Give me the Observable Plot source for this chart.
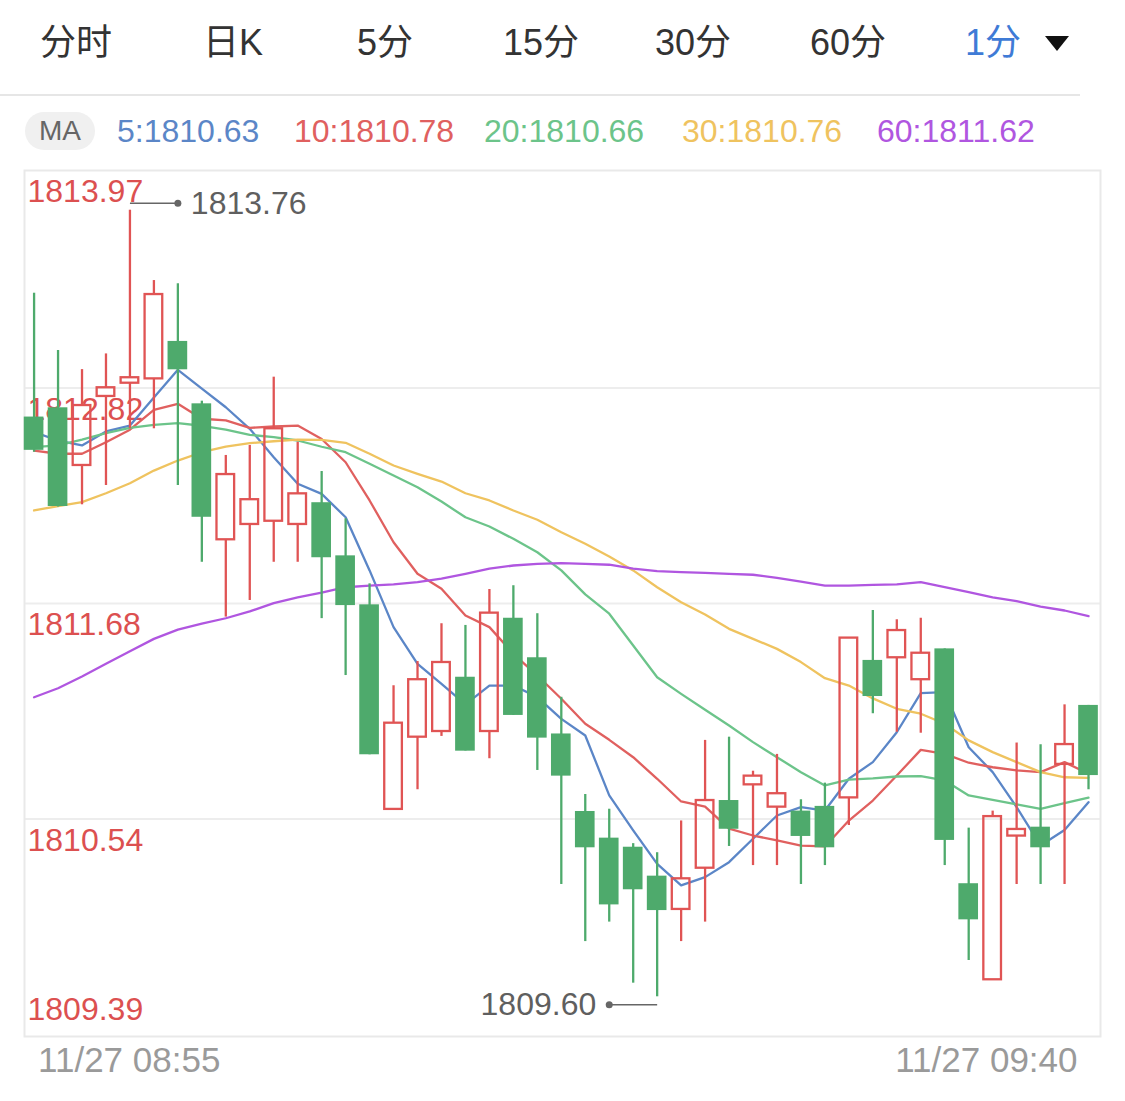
<!DOCTYPE html>
<html>
<head>
<meta charset="utf-8">
<script src="https://cdn.jsdelivr.net/npm/d3@7"></script>
<script src="https://cdn.jsdelivr.net/npm/@observablehq/plot@0.6"></script>
<style>
  body { margin: 0; background: #fff; font-family: "Liberation Sans", "Noto Sans CJK SC", sans-serif; }
  #wrap { position: relative; width: 1125px; height: 1101px; overflow: hidden; background: #fff; }
  #head { position: relative; width: 1125px; height: 150px; }
  .tab { position: absolute; top: 20px; font-size: 36px; line-height: 46px; color: #333; white-space: nowrap; }
  .tab.active { color: #3f7bd6; }
  .tri { position: absolute; left: 1045px; top: 36px; width: 0; height: 0;
         border-left: 12px solid transparent; border-right: 12px solid transparent; border-top: 15px solid #111; }
  .sep { position: absolute; left: 0; top: 94px; width: 1080px; height: 2px; background: #e6e6e6; }
  .pill { position: absolute; left: 25px; top: 112px; width: 70px; height: 38px; border-radius: 19px;
          background: #f0f0f0; color: #666; font-size: 28px; line-height: 38px; text-align: center; }
  .ma { position: absolute; top: 112px; font-size: 32px; line-height: 38px; white-space: nowrap; }
  #chart svg { display: block; }
</style>
</head>
<body>
<div id="wrap">
  <div id="head"></div>
  <div id="chart"></div>
</div>
<script>
// ---------- data ----------
const tabs = ["分时", "日K", "5分", "15分", "30分", "60分", "1分"];
const activeTab = "1分";
const maPeriods = [5, 10, 20, 30, 60];
const maLatest = [1810.63, 1810.78, 1810.66, 1810.76, 1811.62];
const yTicks = [1813.97, 1812.82, 1811.68, 1810.54, 1809.39];
const timeLabels = ["11/27 08:55", "11/27 09:40"];

const opens  = [1812.666, 1812.715, 1812.410, 1812.775, 1812.845, 1812.868, 1813.066, 1812.736, 1812.017, 1812.098,
                1812.115, 1812.098, 1812.213, 1811.932, 1811.673, 1810.591, 1810.973, 1811.003, 1811.290, 1811.003,
                1811.602, 1811.393, 1810.990, 1810.580, 1810.439, 1810.391, 1810.238, 1810.062, 1810.280, 1810.638,
                1810.721, 1810.603, 1810.582, 1810.607, 1810.652, 1811.379, 1811.393, 1811.277, 1811.440, 1810.198,
                1809.690, 1810.450, 1810.497, 1810.829, 1811.141];
const highs  = [1813.321, 1813.018, 1812.917, 1813.000, 1813.760, 1813.388, 1813.371, 1812.750, 1812.463, 1812.516,
                1812.877, 1812.533, 1812.378, 1812.128, 1811.784, 1811.245, 1811.373, 1811.573, 1811.564, 1811.754,
                1811.774, 1811.626, 1811.184, 1810.670, 1810.592, 1810.410, 1810.362, 1810.530, 1810.956, 1810.973,
                1810.793, 1810.882, 1810.642, 1810.730, 1811.497, 1811.643, 1811.594, 1811.602, 1811.440, 1810.492,
                1810.582, 1810.942, 1810.933, 1811.144, 1811.141];
const lows   = [1812.480, 1812.190, 1812.202, 1812.304, 1812.604, 1812.604, 1812.304, 1811.898, 1811.608, 1811.696,
                1811.898, 1811.898, 1811.600, 1811.299, 1810.880, 1810.590, 1810.695, 1810.977, 1810.900, 1810.859,
                1811.088, 1810.797, 1810.194, 1809.892, 1809.995, 1809.672, 1809.600, 1809.892, 1809.995, 1810.395,
                1810.294, 1810.294, 1810.194, 1810.294, 1810.506, 1811.097, 1810.999, 1810.994, 1810.294, 1809.792,
                1809.690, 1810.194, 1810.194, 1810.194, 1810.695];
const closes = [1812.490, 1812.193, 1812.727, 1812.821, 1812.874, 1813.314, 1812.916, 1812.136, 1812.362, 1812.229,
                1812.604, 1812.260, 1811.922, 1811.669, 1810.880, 1811.047, 1811.277, 1811.368, 1810.899, 1811.629,
                1811.088, 1810.968, 1810.767, 1810.388, 1810.086, 1810.166, 1810.056, 1810.224, 1810.638, 1810.486,
                1810.767, 1810.674, 1810.448, 1810.388, 1811.497, 1811.188, 1811.537, 1811.417, 1810.427, 1810.007,
                1810.553, 1810.485, 1810.388, 1810.934, 1810.770];

const ma5  = [1812.586, 1812.542, 1812.516, 1812.590, 1812.621, 1812.770, 1812.916, 1812.816, 1812.718, 1812.604,
              1812.454, 1812.313, 1812.260, 1812.136, 1811.855, 1811.555, 1811.361, 1811.255, 1811.146, 1811.246,
              1811.246, 1811.185, 1811.070, 1810.982, 1810.665, 1810.480, 1810.303, 1810.189, 1810.233, 1810.312,
              1810.436, 1810.559, 1810.603, 1810.585, 1810.753, 1810.841, 1810.999, 1811.206, 1811.211, 1810.920,
              1810.788, 1810.603, 1810.400, 1810.482, 1810.629];
const ma10 = [1812.489, 1812.472, 1812.472, 1812.533, 1812.599, 1812.704, 1812.736, 1812.657, 1812.648, 1812.609,
              1812.616, 1812.621, 1812.550, 1812.427, 1812.225, 1812.004, 1811.837, 1811.758, 1811.617, 1811.555,
              1811.414, 1811.299, 1811.176, 1811.044, 1810.959, 1810.867, 1810.753, 1810.633, 1810.606, 1810.489,
              1810.453, 1810.427, 1810.400, 1810.395, 1810.532, 1810.638, 1810.770, 1810.906, 1810.885, 1810.838,
              1810.814, 1810.797, 1810.788, 1810.841, 1810.780];
const ma20 = [1812.507, 1812.516, 1812.547, 1812.581, 1812.609, 1812.625, 1812.634, 1812.620, 1812.599, 1812.572,
              1812.560, 1812.542, 1812.509, 1812.480, 1812.419, 1812.357, 1812.295, 1812.219, 1812.136, 1812.087,
              1812.022, 1811.951, 1811.855, 1811.728, 1811.626, 1811.458, 1811.290, 1811.202, 1811.118, 1811.035,
              1810.947, 1810.867, 1810.788, 1810.718, 1810.748, 1810.755, 1810.765, 1810.767, 1810.744, 1810.665,
              1810.642, 1810.617, 1810.594, 1810.624, 1810.653];
const ma30 = [1812.172, 1812.195, 1812.216, 1812.263, 1812.316, 1812.383, 1812.436, 1812.480, 1812.510, 1812.528,
              1812.538, 1812.547, 1812.545, 1812.530, 1812.472, 1812.410, 1812.366, 1812.325, 1812.263, 1812.225,
              1812.172, 1812.123, 1812.057, 1811.996, 1811.929, 1811.855, 1811.766, 1811.687, 1811.622, 1811.546,
              1811.493, 1811.440, 1811.370, 1811.285, 1811.246, 1811.178, 1811.123, 1811.097, 1811.044, 1810.956,
              1810.894, 1810.841, 1810.788, 1810.761, 1810.758];
const ma60 = [1811.184, 1811.232, 1811.294, 1811.361, 1811.428, 1811.493, 1811.542, 1811.573, 1811.602, 1811.638,
              1811.682, 1811.713, 1811.738, 1811.766, 1811.774, 1811.781, 1811.793, 1811.811, 1811.837, 1811.864,
              1811.881, 1811.890, 1811.893, 1811.890, 1811.885, 1811.864, 1811.851, 1811.846, 1811.842, 1811.837,
              1811.832, 1811.816, 1811.796, 1811.775, 1811.775, 1811.778, 1811.781, 1811.793, 1811.766, 1811.740,
              1811.713, 1811.692, 1811.664, 1811.643, 1811.613];

// ---------- styling / layout ----------
const maColors = ["#5b86c7", "#e0605f", "#6cc48a", "#efc35f", "#b056e0"];
const tabLeft = [40, 203, 357, 503, 655, 810, 965];
const maLeft = [117, 294, 484, 682, 877];
const RED = "#e05454", GREEN = "#4eaa6c", AXIS_RED = "#dc5050";
const FONT = "'Liberation Sans', 'Noto Sans CJK SC', sans-serif";

// ---------- header ----------
const head = document.getElementById("head");
tabs.forEach((t, k) => {
  const s = document.createElement("span");
  s.className = "tab" + (t === activeTab ? " active" : "");
  s.style.left = tabLeft[k] + "px";
  s.textContent = t;
  head.appendChild(s);
});
const tri = document.createElement("div"); tri.className = "tri"; head.appendChild(tri);
const sep = document.createElement("div"); sep.className = "sep"; head.appendChild(sep);
const pill = document.createElement("div"); pill.className = "pill"; pill.textContent = "MA"; head.appendChild(pill);
maPeriods.forEach((p, k) => {
  const s = document.createElement("span");
  s.className = "ma";
  s.style.left = maLeft[k] + "px";
  s.style.color = maColors[k];
  s.textContent = p + ":" + maLatest[k].toFixed(2);
  head.appendChild(s);
});

// ---------- chart ----------
const n = opens.length;
const candles = d3.range(n).map(i => ({
  i, o: opens[i], h: highs[i], l: lows[i], c: closes[i], up: closes[i] >= opens[i],
  top: Math.max(opens[i], closes[i]), bot: Math.min(opens[i], closes[i])
}));
const ups = candles.filter(d => d.up);
const downs = candles.filter(d => !d.up);
const maList = [ma5, ma10, ma20, ma30, ma60];
const half = 0.41;

const maxI = d3.maxIndex(highs), maxV = highs[maxI];
const minI = d3.minIndex(lows), minV = lows[minI];

const lineMarks = maList.map((arr, k) =>
  Plot.line(arr, {x: (d, i) => i, y: d => d, stroke: maColors[k], strokeWidth: 2.3, curve: "linear"})
);

const chart = Plot.plot({
  width: 1125,
  height: 951,
  marginTop: 20,
  marginBottom: 65,
  marginLeft: 24,
  marginRight: 25,
  x: {type: "linear", domain: [-0.4, n - 0.5], axis: null},
  y: {domain: [yTicks[yTicks.length - 1], yTicks[0]], axis: null},
  style: {fontFamily: FONT, background: "#fff", overflow: "visible"},
  marks: [
    Plot.ruleY(yTicks.slice(1, -1), {stroke: "#ededed", strokeWidth: 2}),
    Plot.frame({stroke: "#e9e9e9", strokeWidth: 2}),
    Plot.text(yTicks.slice(0, -1), {y: d => d, frameAnchor: "left", text: d => d.toFixed(2), textAnchor: "start",
      lineAnchor: "top", dx: 3, dy: 9, fill: AXIS_RED, fontSize: 32}),
    Plot.text(yTicks.slice(-1), {y: d => d, frameAnchor: "left", text: d => d.toFixed(2), textAnchor: "start",
      lineAnchor: "bottom", dx: 3, dy: -17, fill: AXIS_RED, fontSize: 32}),
    ...lineMarks,
    // wicks
    Plot.ruleX(ups, {x: "i", y1: "h", y2: "top", stroke: RED, strokeWidth: 2.3}),
    Plot.ruleX(ups, {x: "i", y1: "bot", y2: "l", stroke: RED, strokeWidth: 2.3}),
    Plot.ruleX(downs, {x: "i", y1: "h", y2: "l", stroke: GREEN, strokeWidth: 2.3}),
    // bodies
    Plot.rect(downs, {x1: d => d.i - half, x2: d => d.i + half, y1: "o", y2: "c", fill: GREEN}),
    Plot.rect(ups, {x1: d => d.i - half, x2: d => d.i + half, y1: "o", y2: "c", fill: "none",
      stroke: RED, strokeWidth: 2.3, insetLeft: 1, insetRight: 1}),
    // max annotation
    Plot.link([maxV], {x1: maxI, x2: maxI + 2, y1: d => d, y2: d => d, stroke: "#666", strokeWidth: 1.5, dy: -7}),
    Plot.dot([maxV], {x: maxI + 2, y: d => d, r: 3.5, fill: "#666", stroke: "none", dy: -7}),
    Plot.text([maxV], {x: maxI + 2, y: d => d, text: d => d.toFixed(2), textAnchor: "start", dx: 13, dy: -6,
      fill: "#5f5f5f", fontSize: 32}),
    // min annotation
    Plot.link([minV], {x1: minI - 2, x2: minI, y1: d => d, y2: d => d, stroke: "#666", strokeWidth: 1.5, dy: 8}),
    Plot.dot([minV], {x: minI - 2, y: d => d, r: 3.5, fill: "#666", stroke: "none", dy: 8}),
    Plot.text([minV], {x: minI - 2, y: d => d, text: d => d.toFixed(2), textAnchor: "end", dx: -13, dy: 8,
      fill: "#5f5f5f", fontSize: 32}),
    // time labels
    Plot.text([timeLabels[0]], {x: 0, frameAnchor: "bottom", text: d => d, textAnchor: "start", dx: 4, dy: 35,
      fill: "#9a9a9a", fontSize: 35}),
    Plot.text([timeLabels[1]], {x: n - 1, frameAnchor: "bottom", text: d => d, textAnchor: "end", dx: -11, dy: 35,
      fill: "#9a9a9a", fontSize: 35})
  ]
});
document.getElementById("chart").appendChild(chart);
</script>
</body>
</html>
